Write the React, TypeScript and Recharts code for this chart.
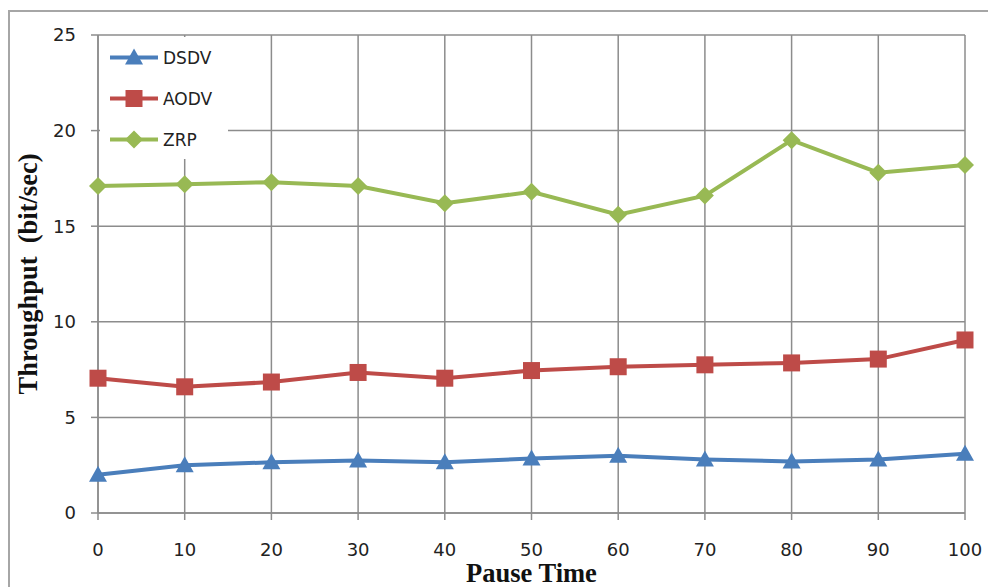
import React from "react"
import {
  LineChart,
  Line,
  XAxis,
  YAxis,
  CartesianGrid,
  Legend,
} from "recharts"

const pauseTimes = [0, 10, 20, 30, 40, 50, 60, 70, 80, 90, 100]
const dsdv = [2.0, 2.5, 2.65, 2.75, 2.65, 2.85, 3.0, 2.8, 2.7, 2.8, 3.1]
const aodv = [7.05, 6.6, 6.85, 7.35, 7.05, 7.45, 7.65, 7.75, 7.85, 8.05, 9.05]
const zrp = [17.1, 17.2, 17.3, 17.1, 16.2, 16.8, 15.6, 16.6, 19.5, 17.8, 18.2]
const yTicks = [0, 5, 10, 15, 20, 25]

const BLUE = "#4a7ebb"
const RED = "#be4b48"
const GREEN = "#98b954"
const GRID = "#8c8c8c"

const data = pauseTimes.map((t, i) => ({ t, DSDV: dsdv[i], AODV: aodv[i], ZRP: zrp[i] }))

type Shape = "triangle" | "square" | "diamond"

function markerPoints(shape: Shape, cx: number, cy: number) {
  if (shape === "triangle") return `${cx - 9},${cy + 7} ${cx + 9},${cy + 7} ${cx},${cy - 9}`
  if (shape === "square") return `${cx - 8.5},${cy - 8.5} ${cx + 8.5},${cy - 8.5} ${cx + 8.5},${cy + 8.5} ${cx - 8.5},${cy + 8.5}`
  return `${cx - 9},${cy} ${cx},${cy - 9} ${cx + 9},${cy} ${cx},${cy + 9}`
}

const makeDot = (shape: Shape, color: string) => (props: any) => {
  const { cx, cy, index } = props
  if (cx == null || cy == null) return <g key={`d-${index}`} />
  return <polygon key={`d-${shape}-${index}`} points={markerPoints(shape, cx, cy)} fill={color} />
}

const legendItems: { name: string; color: string; shape: Shape }[] = [
  { name: "DSDV", color: BLUE, shape: "triangle" },
  { name: "AODV", color: RED, shape: "square" },
  { name: "ZRP", color: GREEN, shape: "diamond" },
]

function LegendBox() {
  return (
    <div style={{ background: "#fff", width: 128, height: 122 }}>
      {legendItems.map((it) => (
        <div key={it.name} style={{ height: 41, display: "flex", alignItems: "center" }}>
          <svg width={60} height={41} style={{ display: "block" }}>
            <line x1={10} y1={20.5} x2={58} y2={20.5} stroke={it.color} strokeWidth={4} />
            <polygon points={markerPoints(it.shape, 34, 20.5)} fill={it.color} />
          </svg>
          <span style={{ marginLeft: 3, fontFamily: "DejaVu Sans", fontSize: 17, color: "#222" }}>{it.name}</span>
        </div>
      ))}
    </div>
  )
}

const tickStyle = { fill: "#222", fontSize: 18, fontFamily: "DejaVu Sans" }
const titleStyle = { fill: "#111", fontSize: 26.5, fontWeight: 700, fontFamily: "Liberation Serif", textAnchor: "middle" as const }

export default function App() {
  return (
    <div style={{ position: "absolute", left: 0, top: 0, width: 988, height: 587, background: "#fff" }}>
      <div
        style={{
          position: "absolute",
          left: 8,
          top: 10,
          right: 0,
          bottom: 0,
          borderTop: "2px solid #a6a6a6",
          borderLeft: "2px solid #a6a6a6",
        }}
      />
      <div style={{ position: "absolute", left: 0, top: 0 }}>
        <LineChart width={988} height={587} data={data} margin={{ top: 35, right: 23, bottom: 0, left: 0 }}>
          <CartesianGrid stroke={GRID} strokeWidth={1.5} />
          <XAxis
            dataKey="t"
            type="number"
            domain={[0, 100]}
            ticks={pauseTimes}
            height={74}
            tick={tickStyle}
            tickSize={7}
            tickMargin={23}
            stroke={GRID}
            strokeWidth={1.5}
            label={{ value: "Pause Time", position: "insideBottom", offset: 5, style: titleStyle }}
          />
          <YAxis
            type="number"
            domain={[0, 25]}
            ticks={yTicks}
            width={98}
            tick={tickStyle}
            tickSize={7}
            tickMargin={15}
            stroke={GRID}
            strokeWidth={1.5}
            label={{ value: "Throughput\u00A0 (bit/sec)", angle: -90, position: "insideLeft", offset: 28, style: titleStyle }}
          />
          <Legend
            layout="horizontal"
            verticalAlign="middle"
            align="center"
            wrapperStyle={{ left: 100, top: 37, width: 128, height: 122 }}
            content={() => <LegendBox />}
          />
          <Line dataKey="DSDV" stroke={BLUE} strokeWidth={4} dot={makeDot("triangle", BLUE)} activeDot={false} isAnimationActive={false} />
          <Line dataKey="AODV" stroke={RED} strokeWidth={4} dot={makeDot("square", RED)} activeDot={false} isAnimationActive={false} />
          <Line dataKey="ZRP" stroke={GREEN} strokeWidth={4} dot={makeDot("diamond", GREEN)} activeDot={false} isAnimationActive={false} />
        </LineChart>
      </div>
    </div>
  )
}
